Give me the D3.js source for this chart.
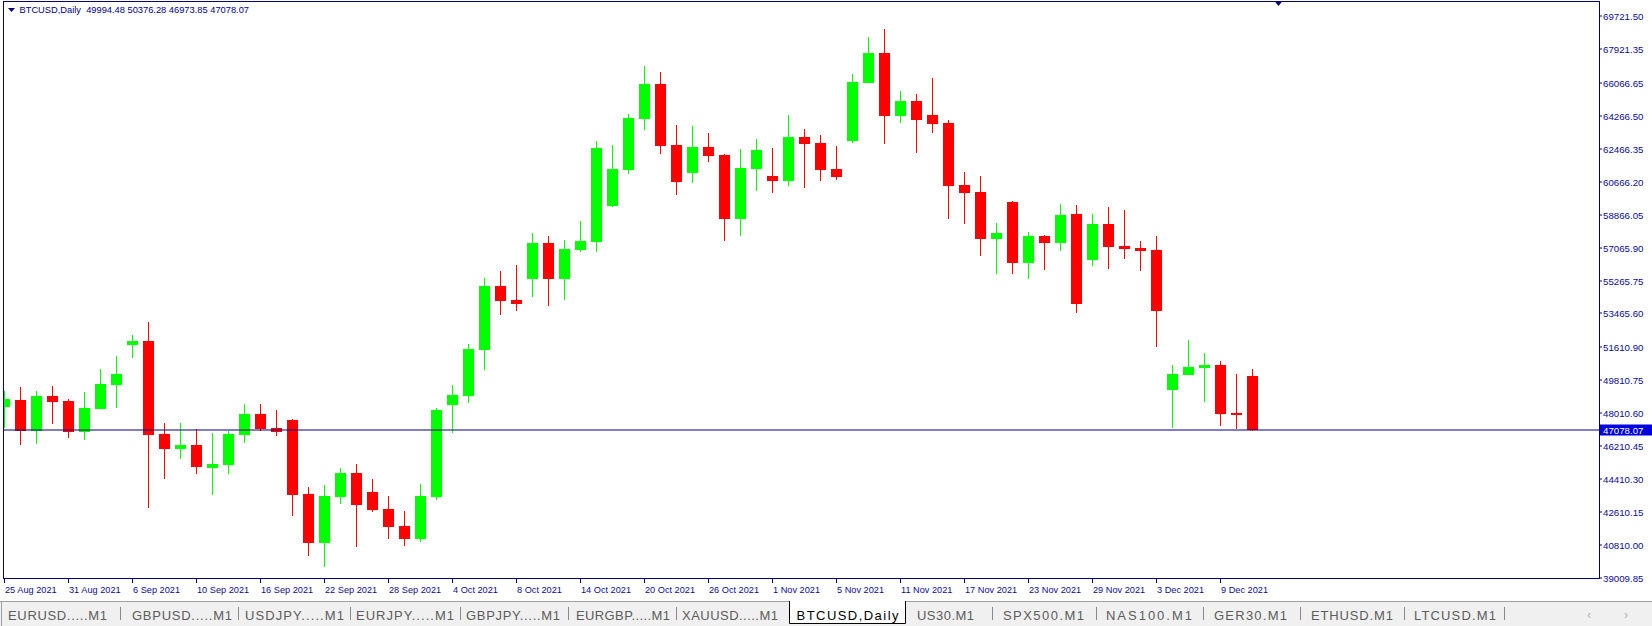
<!DOCTYPE html>
<html><head><meta charset="utf-8">
<script src="https://cdn.jsdelivr.net/npm/d3@7"></script>
<style>
html,body{margin:0;padding:0;background:#fff;overflow:hidden}
svg{display:block}
text{font-family:"Liberation Sans",Arial,sans-serif}
</style></head><body>
<svg id="c" width="1652" height="626"></svg>
<script>
// ---------- DATA ----------
const dates = [
"2021-08-25","2021-08-26","2021-08-27","2021-08-30","2021-08-31",
"2021-09-01","2021-09-02","2021-09-03","2021-09-06","2021-09-07","2021-09-08","2021-09-09","2021-09-10",
"2021-09-13","2021-09-14","2021-09-15","2021-09-16","2021-09-17","2021-09-20","2021-09-21","2021-09-22",
"2021-09-23","2021-09-24","2021-09-27","2021-09-28","2021-09-29","2021-09-30",
"2021-10-01","2021-10-04","2021-10-05","2021-10-06","2021-10-07","2021-10-08","2021-10-11","2021-10-12",
"2021-10-13","2021-10-14","2021-10-15","2021-10-18","2021-10-19","2021-10-20","2021-10-21","2021-10-22",
"2021-10-25","2021-10-26","2021-10-27","2021-10-28","2021-10-29",
"2021-11-01","2021-11-02","2021-11-03","2021-11-04","2021-11-05","2021-11-08","2021-11-09","2021-11-10",
"2021-11-11","2021-11-12","2021-11-15","2021-11-16","2021-11-17","2021-11-18","2021-11-19","2021-11-22",
"2021-11-23","2021-11-24","2021-11-25","2021-11-26","2021-11-29","2021-11-30",
"2021-12-01","2021-12-02","2021-12-03","2021-12-06","2021-12-07","2021-12-08","2021-12-09","2021-12-10","2021-12-13"];
const open = [48323,48689,47013,48907,48650,46958,48214,49524,51707,51926,46833,46014,46232,44993,45157,46795,47924,47160,47597,43557,40899,43410,44704,43667,42739,41811,41117,43410,48432,48923,51434,54912,54148,55294,57259,55294,56877,57314,59279,61260,64028,65955,62609,61080,62500,62063,58573,61315,60916,60660,63045,62718,61299,62843,66010,67631,64208,65011,64246,63810,60425,60043,57494,59497,56184,57641,57275,58842,56347,58296,57095,56986,56877,49235,50070,50452,50599,47979,49994.48];
const high = [49196,49382,49180,49453,48727,49125,50381,51091,52237,52947,47433,47433,47089,46871,46980,48470,48470,48143,47668,43923,44049,44977,45195,44376,43448,42629,44103,48236,49508,51729,55332,55742,56058,57805,57641,57423,58460,62827,62609,64301,66921,66594,63700,63646,63264,62100,62390,62936,62445,64246,63482,63155,62554,66484,68504,68941,65556,65393,66266,63973,61135,60916,58351,59552,57860,57696,59388,59333,58842,59224,59060,57368,57641,50599,51964,51254,50818,50108,50376.28];
const low = [47144,46249,46303,47379,46631,46505,48180,48268,50998,42810,44376,45468,44649,43519,44649,46358,47013,46740,42373,40173,39589,43028,40681,42575,41117,40735,40954,43230,46904,48541,50343,53329,53547,54328,53820,54148,56784,56784,59241,61042,63427,62134,59896,60551,61697,57354,57665,60114,59973,60387,60278,60660,60714,62734,65980,62680,63826,62188,63280,58585,58313,56566,55583,55583,55310,55802,56839,53454,56020,55856,56402,55747,51598,47144,50040,48596,47286,47106,46973.85];
const close = [48727,47013,48907,48596,46958,48268,49562,50108,51926,46795,46030,46249,45048,45195,46833,47924,47106,46958,43519,40899,43448,44704,42973,42684,41772,41117,43448,48143,48962,51473,54912,54109,53946,57259,55294,56931,57368,62445,61299,64082,65955,62570,60605,62500,62025,58573,61353,62336,60660,63045,62680,61260,60878,66048,67631,64208,65011,63990,63771,60387,60005,57494,57805,56184,57641,57275,58788,53946,58296,57057,56948,56839,53563,50108,50490,50599,47941,47870,47078.07];
const priceTickLabels = ["69721.50","67921.35","66066.65","64266.50","62466.35","60666.20","58866.05","57065.90","55265.75","53465.60","51610.90","49810.75","48010.60","46210.45","44410.30","42610.15","40810.00","39009.85"];
const dateTickDates = ["2021-08-25","2021-08-31","2021-09-06","2021-09-10","2021-09-16","2021-09-22","2021-09-28","2021-10-04","2021-10-08","2021-10-14","2021-10-20","2021-10-26","2021-11-01","2021-11-05","2021-11-11","2021-11-17","2021-11-23","2021-11-29","2021-12-03","2021-12-09"];
const dateTickLabels = ["25 Aug 2021","31 Aug 2021","6 Sep 2021","10 Sep 2021","16 Sep 2021","22 Sep 2021","28 Sep 2021","4 Oct 2021","8 Oct 2021","14 Oct 2021","20 Oct 2021","26 Oct 2021","1 Nov 2021","5 Nov 2021","11 Nov 2021","17 Nov 2021","23 Nov 2021","29 Nov 2021","3 Dec 2021","9 Dec 2021"];
const symbolName = "BTCUSD,Daily";
const tabLabels = ["EURUSD.....M1","GBPUSD.....M1","USDJPY.....M1","EURJPY.....M1","GBPJPY.....M1","EURGBP.....M1","XAUUSD.....M1","BTCUSD,Daily","US30.M1","SPX500.M1","NAS100.M1","GER30.M1","ETHUSD.M1","LTCUSD.M1"];

// ---------- LAYOUT ----------
const NAVY = "#000080";
const plot = {left: 3, right: 1599, top: 1, bottom: 578};
const svg = d3.select("#c");

const x = d3.scalePoint().domain(dates).range([4.5, 1252.5]);
const y = d3.scaleLinear().domain([39009.85, 69721.5]).range([577.3, 14.7]);

svg.append("rect").attr("width", 1652).attr("height", 626).attr("fill", "#fff");

svg.append("defs").append("clipPath").attr("id", "pc")
  .append("rect").attr("x", plot.left + 1).attr("y", plot.top + 1)
  .attr("width", plot.right - plot.left - 1).attr("height", plot.bottom - plot.top - 1);

// candles
const data = dates.map((d, i) => ({d, o: open[i], h: high[i], l: low[i], c: close[i]}));
const cg = svg.append("g").attr("clip-path", "url(#pc)");
const cand = cg.selectAll("g.cd").data(data).join("g").attr("class", "cd")
  .attr("fill", d => d.c >= d.o ? "#00ff00" : "#ff0000");
cand.append("rect")
  .attr("x", d => x(d.d) - 0.5)
  .attr("y", d => Math.round(y(d.h)))
  .attr("width", 1)
  .attr("height", d => Math.max(1, Math.round(y(d.l)) - Math.round(y(d.h))));
cand.append("rect")
  .attr("x", d => x(d.d) - 5.5)
  .attr("y", d => Math.round(y(Math.max(d.o, d.c))))
  .attr("width", 11)
  .attr("height", d => Math.max(1, Math.round(y(Math.min(d.o, d.c))) - Math.round(y(Math.max(d.o, d.c)))));

// current price line
const last = close[close.length - 1];
const ly = Math.round(y(last)) + 0.5;
svg.append("line").attr("x1", plot.left).attr("x2", plot.right)
  .attr("y1", ly - 0.5).attr("y2", ly - 0.5).attr("stroke", NAVY).attr("stroke-width", 1);

// frame
svg.append("rect").attr("x", plot.left + 0.5).attr("y", plot.top + 0.5)
  .attr("width", plot.right - plot.left).attr("height", plot.bottom - plot.top)
  .attr("fill", "none").attr("stroke", NAVY).attr("stroke-width", 1);

// shift marker at top
svg.append("path").attr("d", "M1274.5,1 L1282.5,1 L1278.5,6 Z").attr("fill", NAVY);

// header
svg.append("path").attr("d", "M8,8 L15,8 L11.5,12 Z").attr("fill", NAVY);
svg.append("text").attr("x", 19.5).attr("y", 13.2)
  .attr("font-size", 9.3).attr("fill", NAVY).style("white-space", "pre")
  .text(symbolName + "  " + [open, high, low, close].map(a => a[a.length - 1].toFixed(2)).join(" "));

// price axis
const pa = svg.append("g");
priceTickLabels.forEach(t => {
  const py = Math.round(y(+t)) + 1.5;
  pa.append("line").attr("x1", plot.right + 0.5).attr("x2", plot.right + 3)
    .attr("y1", py - 0.5).attr("y2", py - 0.5).attr("stroke", NAVY);
  pa.append("text").attr("x", 1603).attr("y", py).attr("dy", "0.34em")
    .attr("font-size", 9.7).attr("fill", "#0b0b95").text(t);
});
// current price tag
svg.append("rect").attr("x", plot.right + 1).attr("y", ly - 6).attr("width", 1652 - plot.right - 1)
  .attr("height", 11).attr("fill", "#0000e0");
svg.append("text").attr("x", 1603).attr("y", ly).attr("dy", "0.34em")
  .attr("font-size", 9.7).attr("fill", "#fff").text(last.toFixed(2));

// time axis
const ta = svg.append("g");
dateTickDates.forEach((d, k) => {
  const tx = x(d);
  ta.append("line").attr("x1", tx).attr("x2", tx).attr("y1", plot.bottom).attr("y2", plot.bottom + 5)
    .attr("stroke", NAVY);
  ta.append("text").attr("x", tx + 0.5).attr("y", 592.5)
    .attr("font-size", 9.2).attr("fill", "#0b0b95").text(dateTickLabels[k]);
});

// ---------- TAB BAR ----------
const tabLayout = [[57.5,99],[182,100],[294.5,99],[405,98],[513,94],[623,94],[730,96],[847.5,102],[945.5,57],[1043.5,81],[1149,86],[1250.5,73],[1352,82],[1455,82]];
const sepX = [120,238,350,460,568,676,992,1096,1203,1300,1404,1504];
const tb = svg.append("g");
tb.append("rect").attr("x", 0).attr("y", 601).attr("width", 1652).attr("height", 25).attr("fill", "#f0f0f0");
tb.append("line").attr("x1", 0).attr("x2", 1652).attr("y1", 601.5).attr("y2", 601.5).attr("stroke", "#a0a0a0");
tb.append("line").attr("x1", 1.5).attr("x2", 1.5).attr("y1", 601).attr("y2", 626).attr("stroke", "#a0a0a0");
// active tab
const ai = tabLabels.indexOf(symbolName);
const ax0 = 789, ax1 = 906;
tb.append("rect").attr("x", ax0).attr("y", 601).attr("width", ax1 - ax0).attr("height", 23).attr("fill", "#fff");
tb.append("path").attr("d", `M${ax0 + 0.5},601 V623.5 H${ax1 - 0.5} V601`).attr("fill", "none").attr("stroke", "#000");
sepX.forEach(sx => tb.append("line").attr("x1", sx + 0.5).attr("x2", sx + 0.5).attr("y1", 607).attr("y2", 620).attr("stroke", "#8a8a8a"));
tabLabels.forEach((t, i) => {
  tb.append("text").attr("x", tabLayout[i][0]).attr("y", 620).attr("text-anchor", "middle")
    .attr("textLength", tabLayout[i][1]).attr("lengthAdjust", "spacing")
    .attr("font-family", "'Noto Sans',sans-serif").attr("font-size", 13)
    .attr("fill", i === ai ? "#000" : "#5c5c5c").text(t);
});
tb.append("text").attr("x", 1589).attr("y", 619).attr("text-anchor", "middle").attr("font-size", 12).attr("fill", "#b0b0b0").text("‹");
tb.append("text").attr("x", 1626).attr("y", 619).attr("text-anchor", "middle").attr("font-size", 12).attr("fill", "#b0b0b0").text("›");
</script>
</body></html>
